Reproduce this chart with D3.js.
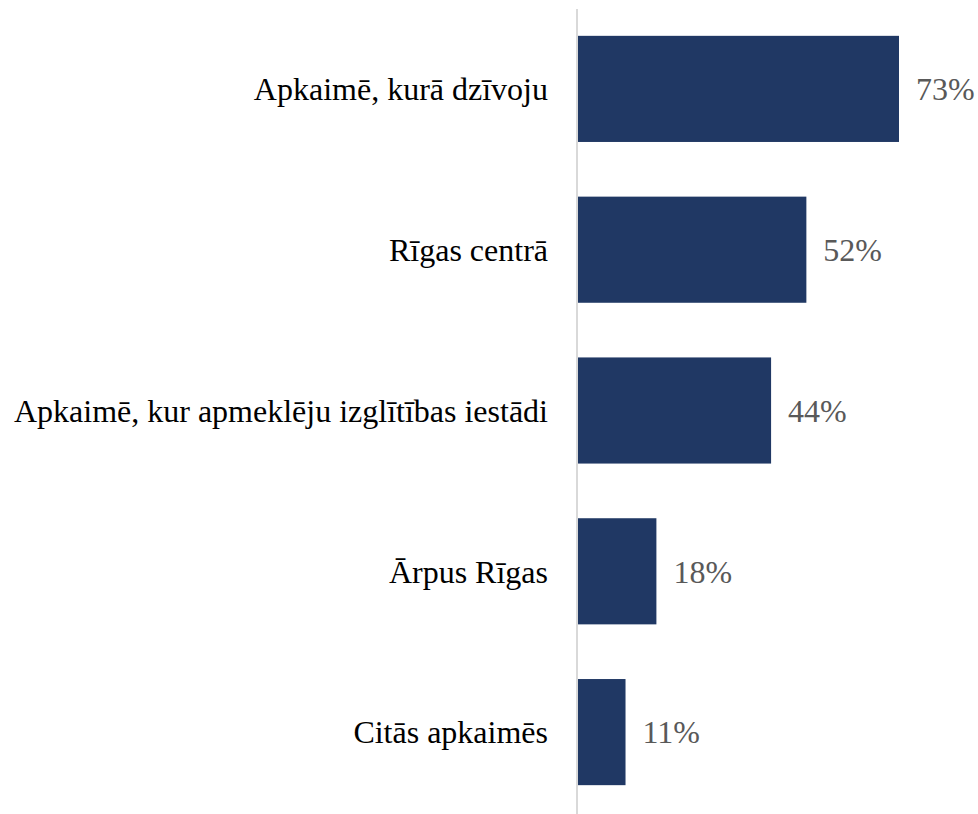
<!DOCTYPE html>
<html><head><meta charset="utf-8">
<script src="https://cdn.jsdelivr.net/npm/d3@7"></script>
<style>body{margin:0;background:#fff} text{font-family:"Liberation Serif","Times New Roman","DejaVu Serif",serif;}</style>
</head><body>
<svg id="c" width="978" height="814"></svg>
<script>
const categories = ["Apkaimē, kurā dzīvoju","Rīgas centrā","Apkaimē, kur apmeklēju izglītības iestādi","Ārpus Rīgas","Citās apkaimēs"];
const values = [73,52,44,18,11];
const labels = ["73%","52%","44%","18%","11%"];

const svg = d3.select("#c");
const x0 = 577;
const x = d3.scaleLinear().domain([0,73]).range([x0, 899]);
const y = d3.scaleBand().domain(categories).range([8.5, 812.5]).paddingInner(0.34).paddingOuter(0.17);

svg.selectAll("rect.bar").data(values).enter().append("rect")
  .attr("x", x(0)).attr("y", (d,i)=>y(categories[i]))
  .attr("width", d=>x(d)-x(0)).attr("height", y.bandwidth())
  .attr("fill", "#203864");

svg.append("line").attr("x1", x0).attr("x2", x0).attr("y1", 9).attr("y2", 814)
  .attr("stroke", "#d9d9d9").attr("stroke-width", 2);

svg.selectAll("text.cat").data(categories).enter().append("text")
  .attr("x", 548).attr("y", d=>y(d)+y.bandwidth()/2).attr("dy","0.35em")
  .attr("text-anchor","end").attr("font-size", 32)
  .attr("fill","#000").text(d=>d);

svg.selectAll("text.val").data(values).enter().append("text")
  .attr("x", d=>x(d)+17).attr("y", (d,i)=>y(categories[i])+y.bandwidth()/2).attr("dy","0.35em")
  .attr("font-size", 32)
  .attr("fill","#595959").text((d,i)=>labels[i]);
</script>
</body></html>
